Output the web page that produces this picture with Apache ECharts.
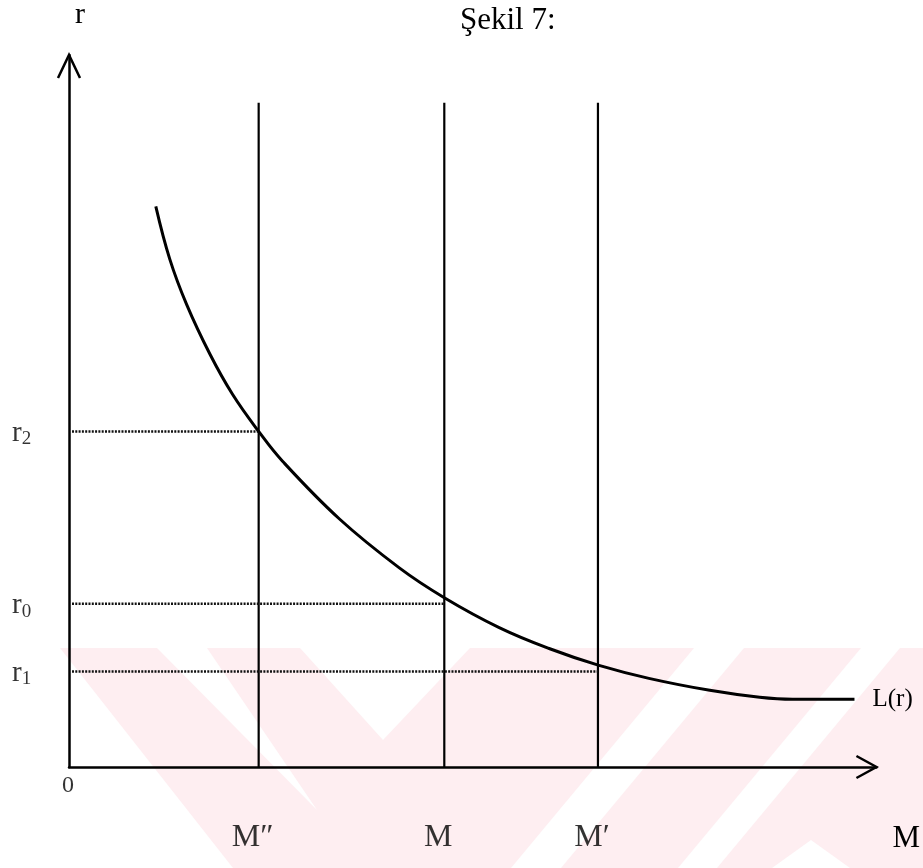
<!DOCTYPE html>
<html>
<head>
<meta charset="utf-8">
<script src="https://cdn.jsdelivr.net/npm/echarts@6/dist/echarts.min.js"></script>
<style>
html,body{margin:0;padding:0;background:#fff;}
#c{width:923px;height:868px;}
</style>
</head>
<body>
<div id="c"></div>
<script>
// ---- data (axis units 0..100) ----
const mNames = ['M\u2033', 'M', 'M\u2032'];
const mValues = [23.49, 46.48, 65.51];
const rNames = ['2', '0', '1'];
const rValues = [47.13, 22.94, 13.43];
const verticalTop = 93.3;
const dottedStart = 0.37;
const curveM = [10.75, 12.48, 14.59, 17.43, 20.27, 23.49, 26.45, 33.50, 40.91, 46.48, 53.28, 59.46, 65.64, 71.82, 79.36, 85.54, 89.62, 97.28];
const curveR = [78.74, 71.33, 64.90, 58.04, 52.31, 47.13, 42.94, 34.83, 27.97, 23.78, 19.58, 16.64, 14.27, 12.45, 10.77, 9.79, 9.51, 9.51];
const curveName = 'L(r)';
const titleText = '\u015eekil 7:';
const xAxisName = 'M';
const yAxisName = 'r';
const originLabel = '0';

const FONT = '"Liberation Serif", "DejaVu Serif", serif';
const chart = echarts.init(document.getElementById('c'), null, {renderer: 'canvas'});

const series = [];
// vertical money supply lines
mValues.forEach(function (m) {
  series.push({type: 'line', data: [[m, 0], [m, verticalTop]], symbol: 'none', silent: true,
    lineStyle: {color: '#000', width: 2.2}, z: 3});
});
// dotted horizontal guides
rValues.forEach(function (r, i) {
  series.push({type: 'line', data: [[dottedStart, r], [mValues[i], r]], symbol: 'none', silent: true,
    lineStyle: {color: '#111', width: 2.5, type: [2, 1.3]}, z: 3});
});
// L(r) curve
series.push({type: 'line', data: curveM.map(function (m, i) { return [m, curveR[i]]; }),
  symbol: 'none', smooth: 0.4, silent: true, lineStyle: {color: '#000', width: 3}, z: 4,
  endLabel: {show: true, formatter: curveName, color: '#000', fontFamily: FONT, fontSize: 25, distance: 18}});
// open arrowheads at the ends of both axes
series.push({type: 'custom', silent: true, clip: false, z: 5,
  data: [[100, 0, 0], [0, 100, 1]],
  renderItem: function (params, api) {
    const tip = api.coord([api.value(0), api.value(1)]);
    const vertical = api.value(2) === 1;
    const pts = vertical
      ? [[tip[0] - 11, tip[1] + 23], tip, [tip[0] + 11, tip[1] + 23]]
      : [[tip[0] - 20, tip[1] - 11], tip, [tip[0] - 20, tip[1] + 11]];
    return {type: 'polyline', shape: {points: pts},
      style: {stroke: '#000', lineWidth: 2.5, fill: null}};
  }});
// r tick labels
series.push({type: 'scatter', symbolSize: 0, clip: false, silent: true,
  data: rValues.map(function (r, i) { return {value: [-7.05, r], name: rNames[i]}; }),
  label: {show: true, position: 'inside', align: 'left', offset: [0, 2],
    formatter: function (p) { return '{a|r}{b|' + p.name + '}'; },
    rich: {a: {fontFamily: FONT, fontSize: 29, color: '#000'},
           b: {fontFamily: FONT, fontSize: 19, color: '#000', verticalAlign: 'bottom', padding: [12, 0, 0, 0]}}}});
// M tick labels
series.push({type: 'scatter', symbolSize: 0, clip: false, silent: true,
  data: mValues.map(function (m, i) { return {value: [m, 0], name: mNames[i]}; }),
  label: {show: true, position: 'inside', offset: [-6, 71], formatter: '{b}',
    fontFamily: FONT, fontSize: 32, color: '#000'}});
// origin label
series.push({type: 'scatter', symbolSize: 0, clip: false, silent: true,
  data: [{value: [0, 0], name: originLabel}],
  label: {show: true, position: 'inside', offset: [-1, 19], formatter: '{b}',
    fontFamily: FONT, fontSize: 24, color: '#000'}});

chart.setOption({
  backgroundColor: '#fff',
  animation: false,
  title: {text: titleText, left: 455, top: 0,
    textStyle: {fontFamily: FONT, fontSize: 31, fontWeight: 'normal', color: '#000'}},
  graphic: [
    // faint pink watermark stripes in the lower part of the page
    {type: 'polygon', z: -10, silent: true, shape: {points: [[60,648],[157,648],[317,810],[207,648],[300,648],[383,740],[470,648],[694,648],[511,868],[233,868]]}, style: {fill: '#feeef1'}},
    {type: 'polygon', z: -10, silent: true, shape: {points: [[744,648],[861,648],[678,868],[561,868]]}, style: {fill: '#feeef1'}},
    {type: 'polygon', z: -10, silent: true, shape: {points: [[900,648],[923,648],[923,868],[850,868],[811,840],[772,868],[717,868]]}, style: {fill: '#feeef1'}}
  ],
  grid: {left: 69, right: 45, top: 52, bottom: 101},
  xAxis: {type: 'value', min: 0, max: 100,
    name: xAxisName, nameLocation: 'end', nameGap: 16,
    nameTextStyle: {fontFamily: FONT, fontSize: 31, color: '#000', align: 'left', verticalAlign: 'top', padding: [56, 0, 0, 0]},
    axisLine: {show: true, onZero: false, lineStyle: {color: '#000', width: 2.5}},
    axisTick: {show: false}, axisLabel: {show: false}, splitLine: {show: false}},
  yAxis: {type: 'value', min: 0, max: 100,
    name: yAxisName, nameLocation: 'end', nameGap: 25,
    nameTextStyle: {fontFamily: FONT, fontSize: 30, color: '#000', align: 'left', padding: [0, 0, 0, 6]},
    axisLine: {show: true, onZero: false, lineStyle: {color: '#000', width: 2.5}},
    axisTick: {show: false}, axisLabel: {show: false}, splitLine: {show: false}},
  series: series
});
</script>
</body>
</html>
